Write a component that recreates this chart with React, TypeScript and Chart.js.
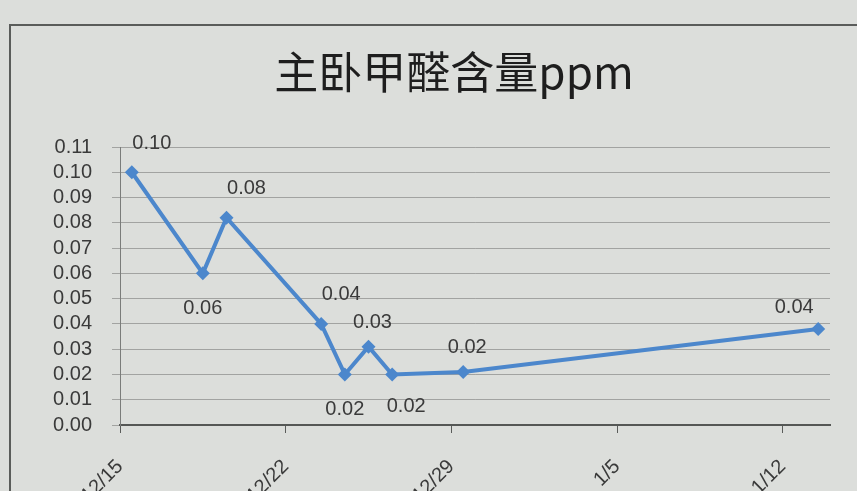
import React, { useEffect, useRef } from "react";
import { Chart, registerables } from "chart.js";

Chart.register(...registerables);

const titleText = "主卧甲醛含量ppm";
const axisStart = "2015-12-15";
const axisEnd = "2016-01-14";
const dates = [
  "2015-12-15",
  "2015-12-18",
  "2015-12-19",
  "2015-12-23",
  "2015-12-24",
  "2015-12-25",
  "2015-12-26",
  "2015-12-29",
  "2016-01-13",
];
const values = [0.1, 0.06, 0.082, 0.04, 0.02, 0.031, 0.02, 0.021, 0.038];
const labelPlacement = ["ne", "s", "ne", "ne", "s", "n", "se", "n", "nw"];
const tickDates = ["2015-12-15", "2015-12-22", "2015-12-29", "2016-01-05", "2016-01-12"];
const tickLabels = ["12/15", "12/22", "12/29", "1/5", "1/12"];
const yMin = 0;
const yMax = 0.11;
const yStep = 0.01;

const dayMs = 86400000;
const toDay = (s: string) => {
  const [y, m, d] = s.split("-").map(Number);
  const [y0, m0, d0] = axisStart.split("-").map(Number);
  return Math.round((Date.UTC(y, m - 1, d) - Date.UTC(y0, m0 - 1, d0)) / dayMs);
};

const BG = "#dcdedb";
const BLUE = "#4c87cc";
const TEXT = "#3a3a3a";
const FONT = "'Liberation Sans', Arial, sans-serif";

const placementOffset: Record<string, [number, number]> = {
  n: [4, -24],
  s: [0, 35],
  ne: [20, -29],
  se: [14, 32],
  nw: [-24, -21],
};

const decorPlugin = {
  id: "decor",
  beforeDraw(chart: any) {
    const ctx = chart.ctx;
    ctx.save();
    ctx.fillStyle = BG;
    ctx.fillRect(0, 0, chart.width, chart.height);
    ctx.strokeStyle = "#5a5c5a";
    ctx.lineWidth = 2;
    ctx.beginPath();
    ctx.moveTo(10, chart.height);
    ctx.lineTo(10, 25);
    ctx.lineTo(chart.width, 25);
    ctx.stroke();
    ctx.restore();
  },
};

const titlePlugin = {
  id: "chartTitle",
  afterDraw(chart: any) {
    const ctx = chart.ctx;
    ctx.save();
    ctx.font = `44px 'Noto Sans CJK SC', sans-serif`;
    ctx.fillStyle = "#1e1e1e";
    ctx.textAlign = "center";
    ctx.textBaseline = "middle";
    const area = chart.chartArea;
    ctx.fillText(titleText, (area.left + area.right) / 2 - 21, 72);
    ctx.restore();
  },
};

const dataLabelPlugin = {
  id: "dataLabels",
  afterDatasetsDraw(chart: any) {
    const ctx = chart.ctx;
    const meta = chart.getDatasetMeta(0);
    ctx.save();
    ctx.font = `20px ${FONT}`;
    ctx.fillStyle = TEXT;
    ctx.textAlign = "center";
    ctx.textBaseline = "middle";
    meta.data.forEach((pt: any, i: number) => {
      const off = placementOffset[labelPlacement[i]] || [0, -24];
      ctx.fillText(values[i].toFixed(2), pt.x + off[0], pt.y + off[1]);
    });
    ctx.restore();
  },
};

export default function App() {
  const ref = useRef<HTMLCanvasElement | null>(null);

  useEffect(() => {
    if (!ref.current) return;
    const points = dates.map((d, i) => ({ x: toDay(d) + 0.5, y: values[i] }));
    const tickValues = tickDates.map(toDay);
    const chart = new Chart(ref.current, {
      type: "line",
      data: {
        datasets: [
          {
            data: points,
            borderColor: BLUE,
            backgroundColor: BLUE,
            borderWidth: 4,
            pointStyle: "rectRot",
            pointRadius: 7,
            pointBorderWidth: 0,
            tension: 0,
          },
        ],
      },
      options: {
        responsive: false,
        animation: false,
        layout: { padding: { top: 147, right: 27, left: 0, bottom: 0 } },
        plugins: {
          legend: { display: false },
          tooltip: { enabled: false },
          title: { display: false },
        },
        scales: {
          x: {
            type: "linear",
            min: 0,
            max: toDay(axisEnd),
            afterBuildTicks: (scale: any) => {
              scale.ticks = tickValues.map((v) => ({ value: v }));
            },
            afterFit: (scale: any) => {
              scale.height = 66;
            },
            ticks: {
              autoSkip: false,
              minRotation: 45,
              maxRotation: 45,
              padding: 22,
              color: TEXT,
              font: { family: FONT, size: 20 },
              callback: (v: any) => {
                const idx = tickValues.indexOf(Number(v));
                return idx >= 0 ? tickLabels[idx] : "";
              },
            },
            grid: { drawOnChartArea: false, drawTicks: true, tickLength: 8, color: "#5a5c5a" },
            border: { color: "#555755", width: 2 },
          },
          y: {
            min: yMin,
            max: yMax,
            afterFit: (scale: any) => {
              scale.width = 120;
            },
            ticks: {
              stepSize: yStep,
              autoSkip: false,
              maxTicksLimit: 20,
              padding: 20,
              color: TEXT,
              font: { family: FONT, size: 20 },
              callback: (v: any) => Number(v).toFixed(2),
            },
            grid: { color: "rgba(90,92,90,0.45)", lineWidth: 1, tickLength: 8, drawTicks: true },
            border: { color: "#7a7c7a", width: 1 },
          },
        },
      },
      plugins: [decorPlugin, dataLabelPlugin, titlePlugin],
    } as any);
    return () => chart.destroy();
  }, []);

  return (
    <div style={{ position: "fixed", left: 0, top: 0, width: 857, height: 491, overflow: "hidden" }}>
      <canvas ref={ref} width={857} height={491} style={{ display: "block" }} />
    </div>
  );
}
